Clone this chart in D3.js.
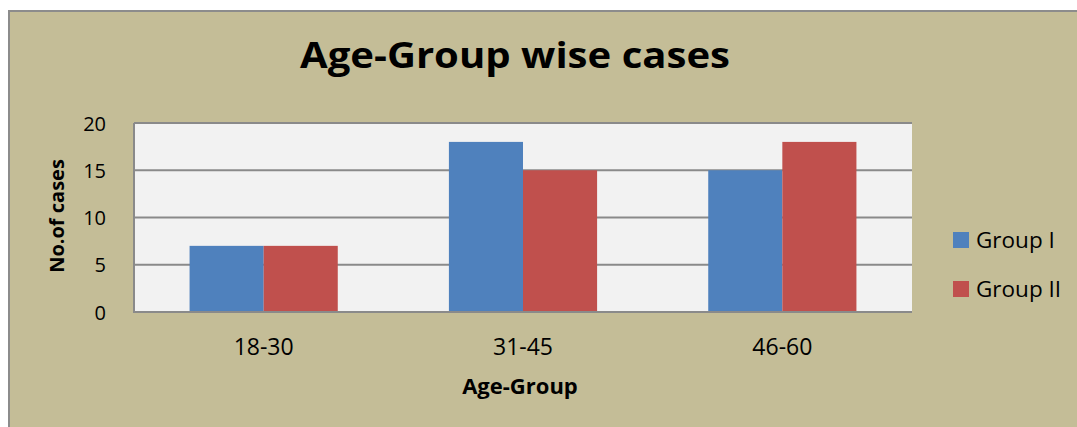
<!DOCTYPE html>
<html>
<head>
<meta charset="utf-8">
<script src="https://cdn.jsdelivr.net/npm/d3@7"></script>
<style>
  html, body { margin: 0; padding: 0; background: #ffffff; }
  svg { display: block; }
</style>
</head>
<body>
<svg id="chart" width="1077" height="427"></svg>
<script>
// Cases per age group for the two study groups
const categories = ["18-30", "31-45", "46-60"];
const seriesNames = ["Group I", "Group II"];
const groupI = [7, 18, 15];
const groupII = [7, 15, 18];
const yTicks = [0, 5, 10, 15, 20];

const colors = ["#4f81bd", "#c0504d"];
const fontFamily = "'Open Sans', Lato, sans-serif";

const svg = d3.select("#chart");
const W = 1077, H = 427;

// Chart frame
svg.append("rect")
  .attr("x", 9).attr("y", 11)
  .attr("width", W).attr("height", H)
  .attr("fill", "#c4bd97")
  .attr("stroke", "#8c8c8c")
  .attr("stroke-width", 2);

const plot = { left: 134, top: 123, right: 912, bottom: 312 };

// Plot area background
svg.append("rect")
  .attr("x", plot.left).attr("y", plot.top)
  .attr("width", plot.right - plot.left).attr("height", plot.bottom - plot.top)
  .attr("fill", "#f2f2f2");

const y = d3.scaleLinear().domain([0, 20]).range([plot.bottom, plot.top]);
const x0 = d3.scaleBand().domain(categories).range([plot.left, plot.right]).padding(0);
// Gap width of 150% of a bar on each category
const barW = x0.bandwidth() / (seriesNames.length + 1.5);
const x1 = d3.scaleBand().domain(seriesNames)
  .range([barW * 0.75, barW * 0.75 + barW * seriesNames.length]).padding(0);

// Horizontal gridlines
svg.append("g")
  .selectAll("line")
  .data(yTicks)
  .join("line")
  .attr("x1", plot.left).attr("x2", plot.right)
  .attr("y1", d => y(d)).attr("y2", d => y(d))
  .attr("stroke", "#8a8a8a")
  .attr("stroke-width", 2);

// Bars
const rows = categories.map((c, i) => ({ cat: c, values: [groupI[i], groupII[i]] }));
svg.append("g")
  .selectAll("g")
  .data(rows)
  .join("g")
  .attr("transform", d => `translate(${x0(d.cat)},0)`)
  .selectAll("rect")
  .data(d => d.values.map((v, j) => ({ name: seriesNames[j], value: v, j })))
  .join("rect")
  .attr("x", d => x1(d.name))
  .attr("y", d => y(d.value))
  .attr("width", x1.bandwidth())
  .attr("height", d => y(0) - y(d.value))
  .attr("fill", d => colors[d.j]);

// Axis lines
svg.append("line")
  .attr("x1", plot.left).attr("x2", plot.left)
  .attr("y1", plot.top).attr("y2", plot.bottom)
  .attr("stroke", "#8a8a8a").attr("stroke-width", 2);
svg.append("line")
  .attr("x1", plot.left - 1).attr("x2", plot.right)
  .attr("y1", plot.bottom).attr("y2", plot.bottom)
  .attr("stroke", "#8a8a8a").attr("stroke-width", 2);

// Y axis
const yAxis = d3.axisLeft(y).tickValues(yTicks).tickSize(0).tickPadding(0);
const gy = svg.append("g")
  .attr("transform", `translate(${plot.left - 28},0)`)
  .call(yAxis);
gy.select(".domain").remove();
gy.selectAll("text")
  .attr("font-family", fontFamily)
  .attr("font-size", 20)
  .attr("dy", "0.36em")
  .attr("fill", "#000");

// X axis
const xAxis = d3.axisBottom(x0).tickSize(0).tickPadding(0);
const gx = svg.append("g")
  .attr("transform", `translate(0,${plot.bottom})`)
  .call(xAxis);
gx.select(".domain").remove();
gx.selectAll("text")
  .attr("font-family", fontFamily)
  .attr("font-size", 23)
  .attr("y", 43)
  .attr("dy", 0)
  .attr("fill", "#000");

// Title
svg.append("text")
  .attr("x", 515).attr("y", 68)
  .attr("text-anchor", "middle")
  .attr("font-family", fontFamily)
  .attr("font-weight", "bold")
  .attr("font-size", 36)
  .attr("textLength", 430)
  .attr("lengthAdjust", "spacingAndGlyphs")
  .attr("fill", "#000")
  .text("Age-Group wise cases");

// Axis titles
svg.append("text")
  .attr("x", 520).attr("y", 394)
  .attr("text-anchor", "middle")
  .attr("font-family", fontFamily)
  .attr("font-weight", "bold")
  .attr("font-size", 22)
  .attr("fill", "#000")
  .text("Age-Group");

svg.append("text")
  .attr("transform", "translate(64,216) rotate(-90)")
  .attr("text-anchor", "middle")
  .attr("font-family", fontFamily)
  .attr("font-weight", "bold")
  .attr("font-size", 20)
  .attr("fill", "#000")
  .text("No.of cases");

// Legend
const legend = svg.append("g")
  .selectAll("g")
  .data(seriesNames)
  .join("g")
  .attr("transform", (d, i) => `translate(953,${232 + i * 49})`);
legend.append("rect")
  .attr("width", 16).attr("height", 16)
  .attr("fill", (d, i) => colors[i]);
legend.append("text")
  .attr("x", 23).attr("y", 16)
  .attr("font-family", fontFamily)
  .attr("font-size", 22.5)
  .attr("fill", "#000")
  .text(d => d);
</script>
</body>
</html>
